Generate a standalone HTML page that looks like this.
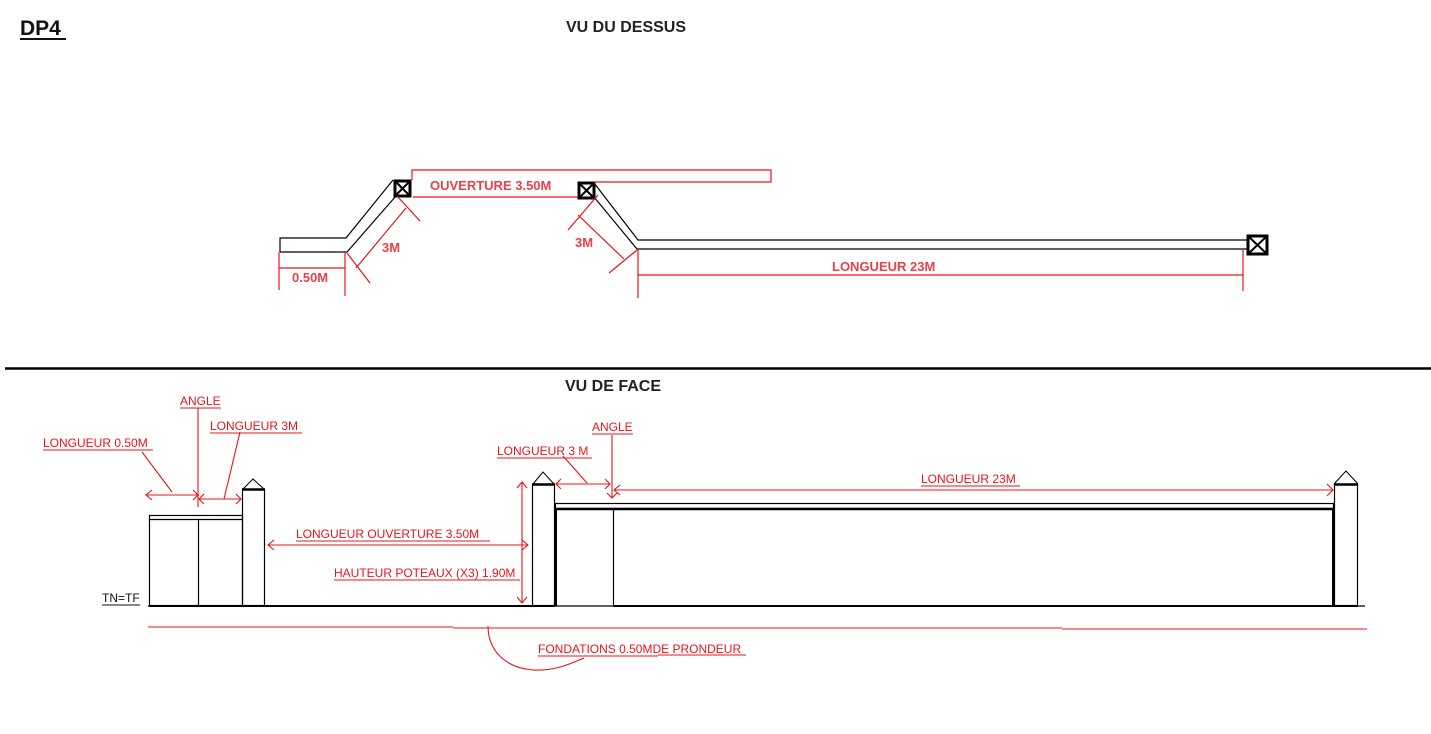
<!DOCTYPE html>
<html><head><meta charset="utf-8"><style>
html,body{margin:0;padding:0;background:#fff;}
svg{display:block;}
text{font-family:"Liberation Sans",sans-serif;}
</style></head><body>
<svg width="1431" height="734" viewBox="0 0 1431 734" xmlns="http://www.w3.org/2000/svg">
<!-- titles -->
<text x="20" y="35" font-size="21" font-weight="bold" fill="#111">DP4</text>
<line x1="20" y1="39" x2="66" y2="39" stroke="#111" stroke-width="2"/>
<text x="566" y="32" font-size="16" font-weight="bold" fill="#222">VU DU DESSUS</text>
<text x="565" y="391" font-size="16" font-weight="bold" fill="#222">VU DE FACE</text>
<line x1="5" y1="368.5" x2="1431" y2="368.5" stroke="#000" stroke-width="2.5"/>

<!-- TOP VIEW black -->
<g stroke="#000" stroke-width="1.2" fill="none">
<polyline points="280,252 280,238 346,238 393,180"/>
<polyline points="280,252 347,252 396,196"/>
<polyline points="594,183 638,240 1247,240"/>
<polyline points="594,197 637,249 1247,249"/>
</g>
<g stroke="#000" stroke-width="3" fill="none">
<rect x="395" y="181" width="15" height="15"/>
<line x1="395" y1="181" x2="410" y2="196" stroke-width="2"/><line x1="410" y1="181" x2="395" y2="196" stroke-width="2"/>
<rect x="579" y="183" width="15" height="15"/>
<line x1="579" y1="183" x2="594" y2="198" stroke-width="2"/><line x1="594" y1="183" x2="579" y2="198" stroke-width="2"/>
<rect x="1248" y="236" width="19" height="18"/>
<line x1="1248" y1="236" x2="1267" y2="254" stroke-width="2"/><line x1="1267" y1="236" x2="1248" y2="254" stroke-width="2"/>
</g>
<!-- top view red -->
<g stroke="#e8141c" stroke-width="1.2" fill="none">
<polyline points="412,180 412,170 771,170 771,182 594,182"/>
<line x1="413" y1="197" x2="578" y2="197"/>
<line x1="279" y1="252" x2="279" y2="290"/>
<line x1="345" y1="252" x2="345" y2="296"/>
<line x1="279" y1="268" x2="345" y2="268"/>
<line x1="397" y1="196" x2="420" y2="221"/>
<line x1="347" y1="253" x2="370" y2="283"/>
<line x1="406" y1="208" x2="356" y2="268"/>
<line x1="598" y1="195" x2="568" y2="230"/>
<line x1="637" y1="250" x2="609" y2="273"/>
<line x1="578" y1="215" x2="624" y2="259"/>
<line x1="638" y1="249" x2="638" y2="298"/>
<line x1="1243" y1="250" x2="1243" y2="291"/>
<line x1="638" y1="275" x2="1243" y2="275"/>
</g>
<g fill="#e8414a" font-weight="bold" font-size="13">
<text x="430" y="190">OUVERTURE 3.50M</text>
<text x="292" y="282">0.50M</text>
<text x="382" y="252">3M</text>
<text x="575" y="247">3M</text>
<text x="832" y="271">LONGUEUR 23M</text>
</g>

<!-- FRONT VIEW black -->
<g stroke="#000" fill="none">
<line x1="148" y1="606" x2="1365" y2="606" stroke-width="1.2"/>
<line x1="149" y1="606" x2="555" y2="606" stroke-width="2"/>
<line x1="613" y1="606" x2="1358" y2="606" stroke-width="2"/>
<rect x="149.5" y="515.5" width="93" height="90" stroke-width="1.2"/>
<line x1="149" y1="519.5" x2="242" y2="519.5" stroke-width="1.2"/>
<line x1="198.5" y1="519" x2="198.5" y2="606" stroke-width="1.2"/>
<rect x="242.5" y="489.5" width="22" height="116" stroke-width="1.2"/>
<line x1="242" y1="489.5" x2="265" y2="489.5" stroke-width="2.5"/>
<polyline points="243,489 253,479 264,489" stroke-width="1"/>
<rect x="532.5" y="484.5" width="22" height="121" stroke-width="1.2"/>
<line x1="532" y1="484.5" x2="555" y2="484.5" stroke-width="2.5"/>
<polyline points="533,484 543,472 554,484" stroke-width="1"/>
<rect x="1334.5" y="484.5" width="23" height="121" stroke-width="1.2"/>
<line x1="1334" y1="484.5" x2="1358" y2="484.5" stroke-width="2.5"/>
<polyline points="1334,484 1346,471 1358,484" stroke-width="1"/>
<rect x="555.5" y="503.5" width="778" height="5" stroke-width="1.2"/>
<line x1="556" y1="509" x2="1334" y2="509" stroke-width="2.5"/>
<line x1="556" y1="509" x2="556" y2="606" stroke-width="2"/>
<line x1="613.5" y1="509" x2="613.5" y2="606" stroke-width="1.2"/>
<line x1="1333.5" y1="509" x2="1333.5" y2="606" stroke-width="3"/>
</g>
<text x="102" y="602" font-size="12" fill="#111">TN=TF</text>
<line x1="102" y1="605" x2="140" y2="605" stroke="#111" stroke-width="1"/>

<!-- front red -->
<g stroke="#e8141c" stroke-width="1.1" fill="none">
<line x1="146" y1="495" x2="199" y2="495"/>
<polyline points="152,490 146,495 152,500"/>
<line x1="142" y1="452" x2="172" y2="492"/>
<line x1="198" y1="408" x2="198" y2="507"/>
<line x1="199" y1="499" x2="241" y2="499"/>
<polyline points="236,494 241,499 236,504"/>
<polyline points="193,490 198,495 193,500"/>
<polyline points="204,494 199,499 204,504"/>
<line x1="240" y1="432" x2="224" y2="499"/>
<line x1="268" y1="545" x2="528" y2="545"/>
<polyline points="274,540 268,545 274,550"/>
<polyline points="522,540 528,545 522,550"/>
<line x1="522" y1="482" x2="522" y2="603"/>
<polyline points="517,488 522,482 527,488"/>
<polyline points="517,597 522,603 527,597"/>
<line x1="556" y1="484" x2="610" y2="484"/>
<polyline points="561,479 556,484 561,489"/>
<polyline points="605,479 610,484 605,489"/>
<line x1="563" y1="456" x2="587" y2="483"/>
<line x1="612" y1="435" x2="612" y2="498"/>
<polyline points="607,493 612,498 617,493"/>
<line x1="614" y1="490" x2="1333" y2="490"/>
<polyline points="620,485 614,490 620,495"/>
<polyline points="1327,484 1333,490 1327,496"/>
<line x1="148" y1="627" x2="453" y2="627"/>
<line x1="453" y1="628" x2="1062" y2="628"/>
<line x1="1062" y1="629" x2="1367" y2="629"/>
<path d="M488,626 C488,650 505,668 533,670 C555,671 570,664 584,658"/>
</g>
<g fill="#e8141c" font-size="12">
<text x="43" y="447">LONGUEUR 0.50M</text>
<text x="180" y="405">ANGLE</text>
<text x="210" y="430">LONGUEUR 3M</text>
<text x="296" y="538">LONGUEUR OUVERTURE  3.50M</text>
<text x="334" y="577">HAUTEUR POTEAUX (X3) 1.90M</text>
<text x="497" y="455">LONGUEUR 3 M</text>
<text x="592" y="431">ANGLE</text>
<text x="921" y="483">LONGUEUR 23M</text>
<text x="538" y="653">FONDATIONS 0.50MDE PRONDEUR</text>
</g>
<g stroke="#e8141c" stroke-width="1">
<line x1="43" y1="450" x2="153" y2="450"/>
<line x1="180" y1="408" x2="221" y2="408"/>
<line x1="210" y1="433" x2="302" y2="433"/>
<line x1="296" y1="541" x2="490" y2="541"/>
<line x1="334" y1="580" x2="520" y2="580"/>
<line x1="497" y1="458" x2="592" y2="458"/>
<line x1="592" y1="434" x2="633" y2="434"/>
<line x1="921" y1="486" x2="1020" y2="486"/>
<line x1="538" y1="656" x2="658" y2="656"/>
<line x1="658" y1="655" x2="746" y2="655"/>
</g>
</svg>
</body></html>
